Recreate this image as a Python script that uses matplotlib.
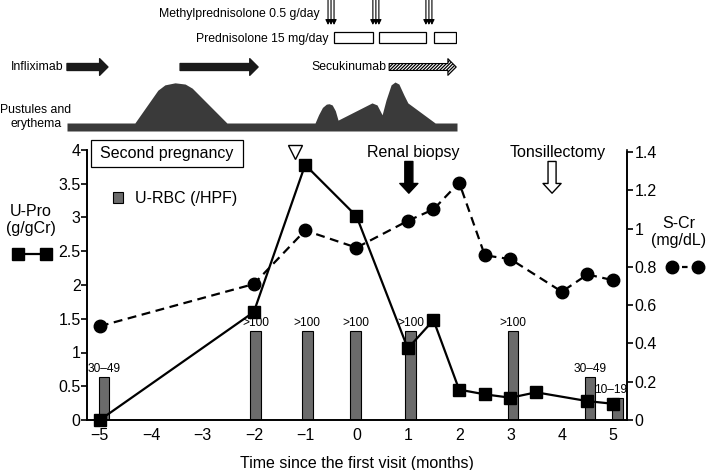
import numpy as np
import matplotlib
matplotlib.use('Agg')
import matplotlib.pyplot as plt
from matplotlib import font_manager
from matplotlib.patches import Rectangle
from matplotlib.lines import Line2D

plt.rcParams['font.family'] = ['Liberation Sans', 'DejaVu Sans']

# ---- main panel data ----
upro_t = [-5, -2, -1, 0, 1, 1.5, 2, 2.5, 3, 3.5, 4.5, 5]
upro = [0.0, 1.6, 3.78, 3.02, 1.06, 1.48, 0.45, 0.38, 0.33, 0.41, 0.28, 0.24]

scr_t = [-5, -2, -1, 0, 1, 1.5, 2, 2.5, 3, 4, 4.5, 5]
scr = [0.49, 0.71, 0.99, 0.90, 1.04, 1.10, 1.24, 0.86, 0.84, 0.67, 0.76, 0.73]

rbc_t = [-4.92, -1.96, -0.96, -0.02, 1.05, 3.05, 4.55, 5.08]
rbc_h = [0.63, 1.32, 1.32, 1.32, 1.32, 1.32, 0.63, 0.32]
rbc_lab = ['30\u201349', '>100', '>100', '>100', '>100', '>100', '30\u201349', '10\u201319']

x_ticks = [-5, -4, -3, -2, -1, 0, 1, 2, 3, 4, 5]
left_ticks = [0, 0.5, 1, 1.5, 2, 2.5, 3, 3.5, 4]
right_ticks = [0, 0.2, 0.4, 0.6, 0.8, 1.0, 1.2, 1.4]

biopsy_t = 1.02
tonsil_t = 3.81
pregnancy_t = -1.2

# ---- top timeline data (months) ----
mpsl_t = [1.77, 2.92, 4.28]
psl_periods = [(1.85, 2.85), (3.0, 4.2), (4.41, 4.97)]
ifx_periods = [(-5.0, -3.95), (-2.1, -0.1)]
sec_period = (3.26, 4.98)
pus_t = [-5, -3.26, -2.67, -2.49, -2.23, -1.97, -1.79, -0.9, 1.36, 1.45, 1.55, 1.65, 1.72,
         1.8, 1.88, 1.95, 2.82, 2.95, 3.08, 3.18, 3.31, 3.41, 3.51, 3.64, 3.74, 4.44, 5]
pus_s = [0, 0, 0.8, 0.93, 0.98, 0.95, 0.85, 0, 0, 0.2, 0.38, 0.46, 0.47,
         0.44, 0.3, 0.07, 0.49, 0.44, 0.2, 0.56, 0.93, 1.0, 0.95, 0.68, 0.49, 0, 0]

W, H = 709, 470
def fx(x):
    return x / W
def fy(y):
    return 1 - y / H

fig = plt.figure(figsize=(7.09, 4.70), dpi=100)

ax = fig.add_axes([fx(87), fy(420), 540 / W, 270 / H])
ax.set_xlim(-5.25, 5.27)
ax.set_ylim(0, 4)
ax2 = ax.twinx()
ax2.set_ylim(0, 1.41)

ax.bar(rbc_t, rbc_h, width=0.21, color='#6b6b6b', edgecolor='black', linewidth=0.8, zorder=2)
for xt, h, lab in zip(rbc_t, rbc_h, rbc_lab):
    dx = -5 if lab == '10\u201319' else 0
    ax.annotate(lab, (xt, h), xytext=(dx, 1.5), textcoords='offset points',
                ha='center', va='bottom', fontsize=8.6)

ax.plot(upro_t, upro, color='black', lw=1.6, marker='s', ms=9, zorder=5, clip_on=False)
ax2.plot(scr_t, scr, color='black', lw=1.6, ls='--', dashes=(4, 2.5), marker='o', ms=9,
         zorder=5, clip_on=False)

ax.spines['top'].set_visible(False)
ax2.spines['top'].set_visible(False)
for a in (ax, ax2):
    for s in a.spines.values():
        s.set_linewidth(1.2)
ax2.spines['right'].set_bounds(0, 1.4)

ax.set_xticks(x_ticks)
ax.set_yticks(left_ticks)
ax.set_yticklabels([f'{v:g}' for v in left_ticks])
ax2.set_yticks(right_ticks)
ax2.set_yticklabels([f'{v:g}' for v in right_ticks])
ax.tick_params(axis='x', length=0, pad=6, labelsize=11.5)
ax.tick_params(axis='y', length=4, width=1.2, pad=0.5, labelsize=11.5)
ax2.tick_params(axis='y', length=4, width=1.2, pad=1.5, labelsize=11.5)
ax.set_xlabel('Time since the first visit (months)', fontsize=11.5, labelpad=9)

# event markers
ax.plot(pregnancy_t, 3.97, marker='v', mfc='white', mec='black', ms=10, mew=1.0, clip_on=False)
big = 'simple,head_length=7,head_width=13,tail_width=5.8'
ax.annotate('', xy=(biopsy_t, 3.36), xytext=(biopsy_t, 3.83),
            arrowprops=dict(arrowstyle=big, mutation_scale=1, fc='black', ec='black',
                            shrinkA=0, shrinkB=0), annotation_clip=False)
ax.annotate('', xy=(tonsil_t, 3.36), xytext=(tonsil_t, 3.83),
            arrowprops=dict(arrowstyle=big, mutation_scale=1, fc='white', ec='black', lw=1,
                            shrinkA=0, shrinkB=0), annotation_clip=False)
ax.text(biopsy_t + 0.08, 3.96, 'Renal biopsy', ha='center', va='center', fontsize=11.5)
ax.text(tonsil_t + 0.1, 3.96, 'Tonsillectomy', ha='center', va='center', fontsize=11.5)

# pregnancy box and legends
fig.patches.append(Rectangle((fx(91), fy(167)), 152 / W, 27 / H, transform=fig.transFigure,
                             fc='white', ec='black', lw=0.9, zorder=3))
fig.text(fx(100), fy(154), 'Second pregnancy', ha='left', va='center', fontsize=11.5, zorder=4)
fig.patches.append(Rectangle((fx(113), fy(203)), 10 / W, 11 / H, transform=fig.transFigure,
                             fc='#6b6b6b', ec='black', lw=0.8))
fig.text(fx(135), fy(198), 'U-RBC (/HPF)', ha='left', va='center', fontsize=11.5)

fig.text(fx(31), fy(220), 'U-Pro\n(g/gCr)', ha='center', va='center', fontsize=11.5, linespacing=1.15)
fig.add_artist(Line2D([fx(18), fx(46)], [fy(254), fy(254)], transform=fig.transFigure,
                      color='black', lw=1.6, marker='s', ms=9))
fig.text(fx(679), fy(232), 'S-Cr\n(mg/dL)', ha='center', va='center', fontsize=11.5, linespacing=1.15)
fig.add_artist(Line2D([fx(672), fx(698)], [fy(267), fy(267)], transform=fig.transFigure,
                      color='black', lw=1.6, ls='--', dashes=(2.5, 2), marker='o', ms=9))

# ---- top timeline ----
names = {f.name for f in font_manager.fontManager.ttflist}
if 'Liberation Sans Narrow' in names:
    top_font = dict(family='Liberation Sans Narrow', fontsize=10.3)
else:
    top_font = dict(family='Liberation Sans', fontsize=8.8)

axt = fig.add_axes([fx(67), fy(140), 390 / W, 140 / H])
axt.set_xlim(-5, 5)
axt.set_ylim(140, 0)
axt.axis('off')

top = 123 - 41 * np.array(pus_s)
axt.fill_between(pus_t, 131, top, color='#3a3a3a', lw=0)

for m in mpsl_t:
    for d in (-0.077, 0, 0.077):
        axt.annotate('', xy=(m + d, 25), xytext=(m + d, -2),
                     arrowprops=dict(arrowstyle='-|>,head_length=0.5,head_width=0.25', mutation_scale=6,
                                     lw=0.8, color='black', shrinkA=0, shrinkB=0),
                     annotation_clip=False)
for a, b in psl_periods:
    axt.add_patch(Rectangle((a, 32), b - a, 11, fc='white', ec='black', lw=0.9))

harrow = 'simple,head_length=6,head_width=12,tail_width=5'
for a, b in ifx_periods:
    axt.annotate('', xy=(b, 67), xytext=(a, 67),
                 arrowprops=dict(arrowstyle=harrow, mutation_scale=1, fc='#1a1a1a', ec='#1a1a1a',
                                 shrinkA=0, shrinkB=0), annotation_clip=False)
plt.rcParams['hatch.linewidth'] = 0.9
axt.annotate('', xy=(sec_period[1], 67), xytext=(sec_period[0], 67),
             arrowprops=dict(arrowstyle=harrow, mutation_scale=1, fc='white', ec='black', lw=0.8,
                             hatch='//////////', shrinkA=0, shrinkB=0), annotation_clip=False)

fig.text(fx(320), fy(14), 'Methylprednisolone 0.5 g/day', ha='right', va='center', **top_font)
fig.text(fx(328), fy(39), 'Prednisolone 15 mg/day', ha='right', va='center', **top_font)
fig.text(fx(63), fy(67), 'Infliximab', ha='right', va='center', **top_font)
fig.text(fx(386), fy(67), 'Secukinumab', ha='right', va='center', **top_font)
fig.text(fx(36), fy(117), 'Pustules and\nerythema', ha='center', va='center', linespacing=1.2, **top_font)

fig.savefig('out.png', dpi=100)
